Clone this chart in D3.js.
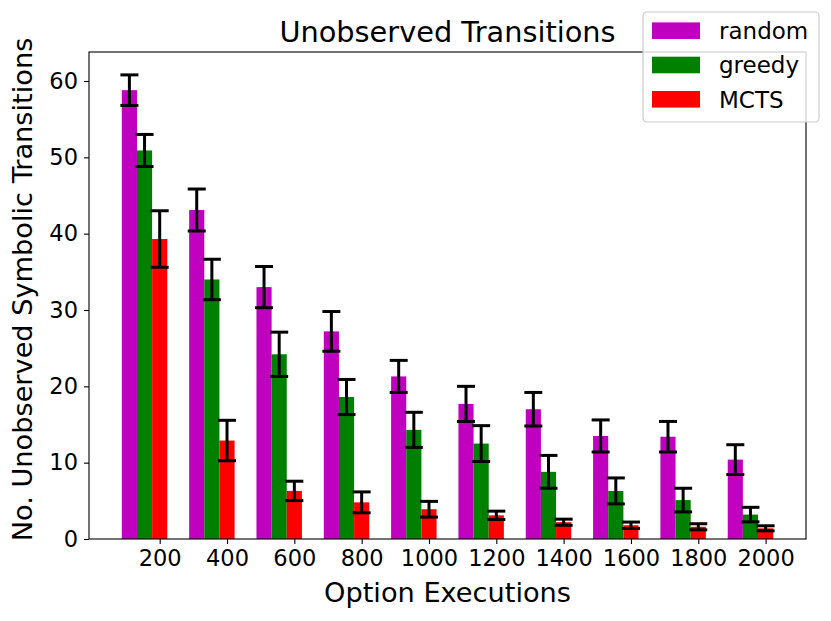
<!DOCTYPE html>
<html>
<head>
<meta charset="utf-8">
<script src="https://cdn.jsdelivr.net/npm/d3@7"></script>
<style>
  body { margin: 0; background: #fff; }
  text { font-family: 'DejaVu Sans', sans-serif; }
</style>
</head>
<body>
<div id="chart"></div>
<script>
const steps = [200, 400, 600, 800, 1000, 1200, 1400, 1600, 1800, 2000]
const yTicks = [0, 10, 20, 30, 40, 50, 60]

const randomMean = [58.8, 43.1, 33.0, 27.2, 21.3, 17.7, 17.0, 13.5, 13.4, 10.4]
const randomErr = [2.0, 2.75, 2.7, 2.6, 2.1, 2.3, 2.2, 2.1, 2.0, 1.95]
const greedyMean = [50.9, 34.0, 24.2, 18.6, 14.3, 12.5, 8.8, 6.3, 5.1, 3.2]
const greedyErr = [2.1, 2.65, 2.9, 2.3, 2.3, 2.35, 2.15, 1.7, 1.55, 0.95]
const mctsMean = [39.3, 12.9, 6.3, 4.8, 3.9, 3.1, 2.2, 1.8, 1.6, 1.4]
const mctsErr = [3.7, 2.65, 1.27, 1.37, 1.03, 0.55, 0.4, 0.42, 0.4, 0.33]

const seriesNames = ['random', 'greedy', 'MCTS']
const colors = ['#bf00bf', '#008000', '#ff0000']

const width = 831
const height = 621
const margin = { top: 52, left: 89, right: 25, bottom: 82 }
const barW = 45

const svg = d3.select('#chart')
  .append('svg')
  .attr('width', width)
  .attr('height', height)

// scales
const x = d3.scaleLinear()
  .domain([-10, 2120])
  .range([margin.left, width - margin.right])

const y = d3.scaleLinear()
  .domain([0, 63.8])
  .range([height - margin.bottom, margin.top])

const series = [
  { name: seriesNames[0], mean: randomMean, err: randomErr, offset: -2 },
  { name: seriesNames[1], mean: greedyMean, err: greedyErr, offset: -1 },
  { name: seriesNames[2], mean: mctsMean, err: mctsErr, offset: 0 }
]

// bars
series.forEach((s, i) => {
  const data = steps.map((st, j) => ({ x: st + s.offset * barW, v: s.mean[j], e: s.err[j] }))

  svg.append('g')
    .selectAll('rect')
    .data(data)
    .enter()
    .append('rect')
    .attr('x', d => x(d.x - barW / 2))
    .attr('width', d => x(d.x + barW / 2) - x(d.x - barW / 2))
    .attr('y', d => y(d.v))
    .attr('height', d => y(0) - y(d.v))
    .attr('fill', colors[i])

  const eb = svg.append('g')
    .attr('stroke', '#000')
    .attr('stroke-width', 3)
    .selectAll('g')
    .data(data)
    .enter()
    .append('g')

  eb.append('line')
    .attr('x1', d => x(d.x))
    .attr('x2', d => x(d.x))
    .attr('y1', d => y(d.v - d.e))
    .attr('y2', d => y(d.v + d.e))

  eb.append('line')
    .attr('x1', d => x(d.x) - 9)
    .attr('x2', d => x(d.x) + 9)
    .attr('y1', d => y(d.v + d.e))
    .attr('y2', d => y(d.v + d.e))

  eb.append('line')
    .attr('x1', d => x(d.x) - 9)
    .attr('x2', d => x(d.x) + 9)
    .attr('y1', d => y(d.v - d.e))
    .attr('y2', d => y(d.v - d.e))
})

// axes
const xAxis = svg.append('g')
  .attr('transform', `translate(0, ${y(0)})`)
  .call(d3.axisBottom(x).tickValues(steps).tickFormat(d3.format('d')).tickSize(5).tickPadding(6))

const yAxis = svg.append('g')
  .attr('transform', `translate(${margin.left}, 0)`)
  .call(d3.axisLeft(y).tickValues(yTicks).tickFormat(d3.format('d')).tickSize(5).tickPadding(6))

;[xAxis, yAxis].forEach(a => {
  a.attr('font-family', null)
  a.selectAll('text')
    .style('font-size', '22.5px')
    .attr('fill', '#000')
  a.selectAll('.tick line').attr('stroke', '#000').attr('stroke-width', 1.1)
  a.select('.domain').remove()
})

// frame
svg.append('rect')
  .attr('x', margin.left)
  .attr('y', margin.top)
  .attr('width', width - margin.right - margin.left)
  .attr('height', y(0) - margin.top)
  .attr('fill', 'none')
  .attr('stroke', '#000')
  .attr('stroke-width', 1.1)

// titles
svg.append('text')
  .text('Unobserved Transitions')
  .attr('x', (margin.left + width - margin.right) / 2)
  .attr('y', 42)
  .attr('text-anchor', 'middle')
  .style('font-size', '28.8px')

svg.append('text')
  .text('Option Executions')
  .attr('x', (margin.left + width - margin.right) / 2)
  .attr('y', 602)
  .attr('text-anchor', 'middle')
  .style('font-size', '27.2px')

svg.append('text')
  .text('No. Unobserved Symbolic Transitions')
  .attr('transform', `translate(32, ${(margin.top + y(0)) / 2 - 6}) rotate(-90)`)
  .attr('text-anchor', 'middle')
  .style('font-size', '27.2px')

// legend
const legend = svg.append('g')
  .attr('transform', 'translate(643, 12)')

legend.append('rect')
  .attr('width', 176)
  .attr('height', 110)
  .attr('rx', 4)
  .attr('fill', 'white')
  .attr('fill-opacity', 0.8)
  .attr('stroke', '#ccc')
  .attr('stroke-width', 1.2)

const item = legend.selectAll('.item')
  .data(seriesNames)
  .enter()
  .append('g')
  .attr('transform', (d, i) => `translate(0, ${18.7 + i * 34.3})`)

item.append('rect')
  .attr('x', 9)
  .attr('y', -8.3)
  .attr('width', 48)
  .attr('height', 16.6)
  .attr('fill', (d, i) => colors[i])

item.append('text')
  .text(d => d)
  .attr('x', 76)
  .attr('y', 0)
  .attr('dy', '0.36em')
  .style('font-size', '23px')
</script>
</body>
</html>
